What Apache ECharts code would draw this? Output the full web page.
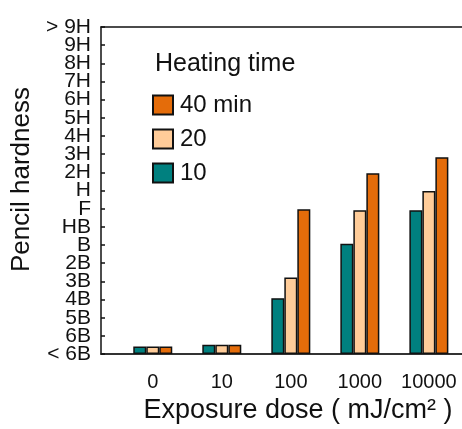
<!DOCTYPE html>
<html>
<head>
<meta charset="utf-8">
<script src="https://cdn.jsdelivr.net/npm/echarts@6/dist/echarts.min.js"></script>
<style>
  html, body { margin: 0; padding: 0; background: #fff; }
  #chart { width: 462px; height: 429px; }
</style>
</head>
<body>
<div id="chart"></div>
<script>
// 曝光剂量（x轴类别）
var doses = ['0', '10', '100', '1000', '10000'];
// 铅笔硬度刻度
var hardnessLabels = ['< 6B', '6B', '5B', '4B', '3B', '2B', 'B', 'HB', 'F', 'H',
                      '2H', '3H', '4H', '5H', '6H', '7H', '8H', '9H', '> 9H'];
// 各加热时间的硬度（刻度序号）
var heat10 = [0.42, 0.52, 3.08, 6.07, 7.92];
var heat20 = [0.42, 0.52, 4.21, 7.92, 8.97];
var heat40 = [0.42, 0.52, 7.97, 9.95, 10.83];

var FONT = 'Liberation Sans, Arial, sans-serif';

function toPairs(vals) {
    return vals.map(function (v, i) { return [i, v]; });
}

function barSeries(name, color, vals) {
    return {
        name: name,
        type: 'bar',
        yAxisIndex: 1,
        barWidth: 13,
        barGap: '0%',
        data: toPairs(vals),
        itemStyle: { color: color, borderColor: '#111', borderWidth: 1.5 }
    };
}

var chart = echarts.init(document.getElementById('chart'));

var option = {
    animation: false,
    title: {
        text: 'Heating time',
        left: 150,
        top: 47,
        textStyle: { fontFamily: FONT, fontSize: 25, fontWeight: 'normal', color: '#111' }
    },
    legend: {
        data: ['40 min', '20', '10'],
        orient: 'vertical',
        left: 147,
        top: 88,
        itemWidth: 20,
        itemHeight: 19,
        itemGap: 10,
        icon: 'rect',
        textStyle: { fontFamily: FONT, fontSize: 24, color: '#111', padding: [0, 0, 0, 2] }
    },
    grid: { left: 101, right: 0, top: 27, bottom: 70 },
    xAxis: [{
        type: 'value',
        min: -0.75,
        max: 4.48,
        name: 'Exposure dose ( mJ/cm² )',
        nameLocation: 'middle',
        nameGap: 39,
        nameTextStyle: { fontFamily: FONT, fontSize: 27, color: '#111', padding: [0, 0, 0, 33] },
        axisLine: { onZero: false, lineStyle: { color: '#333', width: 2 } },
        axisTick: { show: false },
        splitLine: { show: false },
        axisLabel: {
            margin: 18,
            fontFamily: FONT, fontSize: 20, color: '#111',
            showMinLabel: false, showMaxLabel: false,
            formatter: function (v) {
                return (Math.round(v) === v && v >= 0) ? doses[v] : '';
            }
        }
    }, {
        // 顶部边框线
        type: 'value',
        position: 'top',
        min: -0.75,
        max: 4.48,
        axisLine: { onZero: false, lineStyle: { color: '#111', width: 1.5 } },
        axisTick: { show: false },
        axisLabel: { show: false },
        splitLine: { show: false }
    }],
    yAxis: [{
        // 硬度刻度标签（类目轴，保证每个标签都显示）
        type: 'category',
        data: hardnessLabels,
        boundaryGap: false,
        name: 'Pencil hardness',
        nameLocation: 'middle',
        nameGap: 62,
        nameTextStyle: { fontFamily: FONT, fontSize: 26, color: '#111', padding: [0, 0, 0, 22] },
        axisLine: { show: true, onZero: false, lineStyle: { color: '#111', width: 1.5 } },
        axisTick: { show: true, inside: true, length: 4, interval: 0, lineStyle: { color: '#111', width: 1.5 } },
        splitLine: { show: false },
        axisLabel: {
            margin: 10,
            interval: 0,
            fontFamily: FONT, fontSize: 21, color: '#111'
        }
    }, {
        // 柱子用的数值轴（隐藏）
        type: 'value',
        min: 0,
        max: 18,
        show: false
    }],
    series: [
        barSeries('10', '#00807F', heat10),
        barSeries('20', '#FFCC99', heat20),
        barSeries('40 min', '#E46C0A', heat40)
    ]
};

chart.setOption(option);
</script>
</body>
</html>
